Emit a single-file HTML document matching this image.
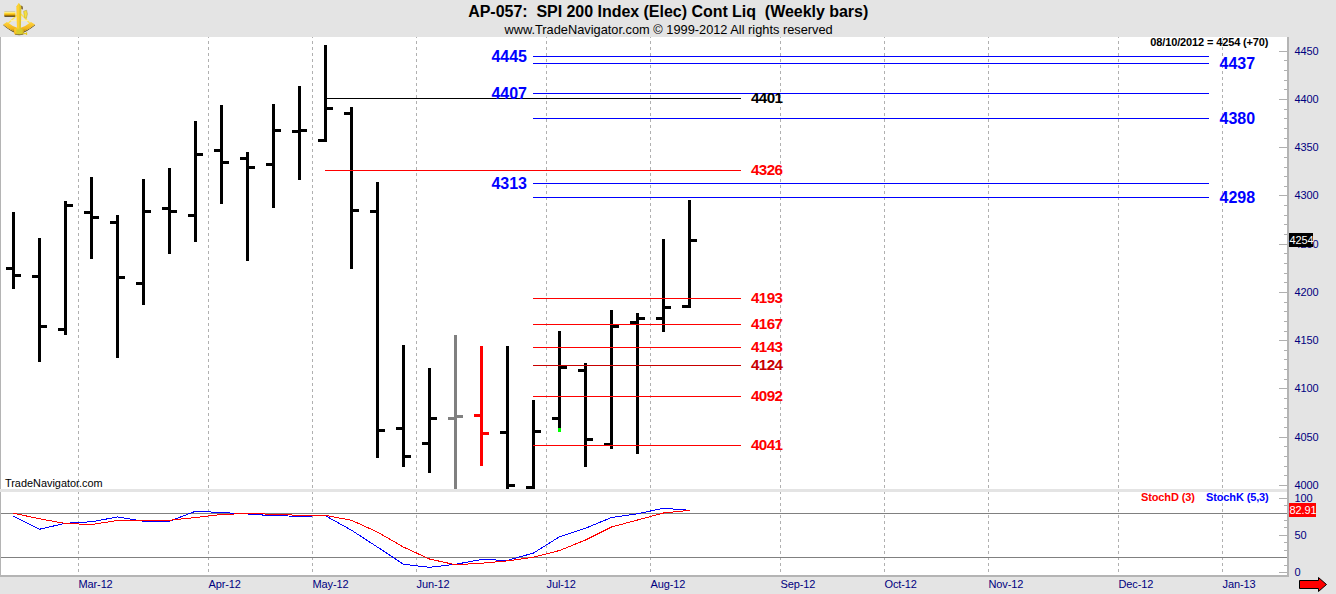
<!DOCTYPE html>
<html><head><meta charset="utf-8"><title>AP-057 SPI 200 Index</title>
<style>
html,body{margin:0;padding:0;background:#e4e4e4;}
body{width:1336px;height:594px;overflow:hidden;font-family:"Liberation Sans",sans-serif;}
svg{display:block;position:absolute;left:0;top:0;}
text{font-family:"Liberation Sans",sans-serif;}
.t{font-weight:bold;font-size:16px;fill:#000;}
.s{font-size:12.8px;fill:#000;}
.ax{font-size:11px;letter-spacing:-0.12px;fill:#000080;}
.bl{font-weight:bold;font-size:16px;fill:#0000ff;}
.rd{font-weight:bold;font-size:15.2px;letter-spacing:-0.6px;fill:#ff0000;}
.bk{font-weight:bold;font-size:15.2px;letter-spacing:-0.6px;fill:#000;}
.sm{font-weight:bold;font-size:11px;letter-spacing:-0.13px;}
</style></head><body>
<svg width="1336" height="594" viewBox="0 0 1336 594">
<rect x="0" y="0" width="1336" height="594" fill="#e4e4e4"/>
<g shape-rendering="crispEdges">
<rect x="1" y="37" width="1286" height="538" fill="#fff"/>
<rect x="0" y="37" width="1" height="540" fill="#b4b4b4"/>
<rect x="0" y="575" width="1289" height="2" fill="#b4b4b4"/>
<rect x="1287" y="37" width="2" height="540" fill="#b4b4b4"/>
<line x1="78.5" y1="37" x2="78.5" y2="575" stroke="#b0b0b0" stroke-width="1" stroke-dasharray="3,3" stroke-dashoffset="2"/>
<line x1="208.5" y1="37" x2="208.5" y2="575" stroke="#b0b0b0" stroke-width="1" stroke-dasharray="3,3" stroke-dashoffset="2"/>
<line x1="312.5" y1="37" x2="312.5" y2="575" stroke="#b0b0b0" stroke-width="1" stroke-dasharray="3,3" stroke-dashoffset="2"/>
<line x1="416.5" y1="37" x2="416.5" y2="575" stroke="#b0b0b0" stroke-width="1" stroke-dasharray="3,3" stroke-dashoffset="2"/>
<line x1="546.5" y1="37" x2="546.5" y2="575" stroke="#b0b0b0" stroke-width="1" stroke-dasharray="3,3" stroke-dashoffset="2"/>
<line x1="650.5" y1="37" x2="650.5" y2="575" stroke="#b0b0b0" stroke-width="1" stroke-dasharray="3,3" stroke-dashoffset="2"/>
<line x1="780.5" y1="37" x2="780.5" y2="575" stroke="#b0b0b0" stroke-width="1" stroke-dasharray="3,3" stroke-dashoffset="2"/>
<line x1="884.5" y1="37" x2="884.5" y2="575" stroke="#b0b0b0" stroke-width="1" stroke-dasharray="3,3" stroke-dashoffset="2"/>
<line x1="988.5" y1="37" x2="988.5" y2="575" stroke="#b0b0b0" stroke-width="1" stroke-dasharray="3,3" stroke-dashoffset="2"/>
<line x1="1118.5" y1="37" x2="1118.5" y2="575" stroke="#b0b0b0" stroke-width="1" stroke-dasharray="3,3" stroke-dashoffset="2"/>
<line x1="1222.5" y1="37" x2="1222.5" y2="575" stroke="#b0b0b0" stroke-width="1" stroke-dasharray="3,3" stroke-dashoffset="2"/>
<rect x="0" y="489" width="1287" height="3" fill="#e4e4e4"/>
<rect x="1279" y="51" width="8" height="1" fill="#b0b0b0"/>
<rect x="1284" y="60" width="3" height="1" fill="#b0b0b0"/>
<rect x="1284" y="70" width="3" height="1" fill="#b0b0b0"/>
<rect x="1284" y="80" width="3" height="1" fill="#b0b0b0"/>
<rect x="1284" y="89" width="3" height="1" fill="#b0b0b0"/>
<rect x="1279" y="99" width="8" height="1" fill="#b0b0b0"/>
<rect x="1284" y="109" width="3" height="1" fill="#b0b0b0"/>
<rect x="1284" y="118" width="3" height="1" fill="#b0b0b0"/>
<rect x="1284" y="128" width="3" height="1" fill="#b0b0b0"/>
<rect x="1284" y="138" width="3" height="1" fill="#b0b0b0"/>
<rect x="1279" y="147" width="8" height="1" fill="#b0b0b0"/>
<rect x="1284" y="157" width="3" height="1" fill="#b0b0b0"/>
<rect x="1284" y="167" width="3" height="1" fill="#b0b0b0"/>
<rect x="1284" y="176" width="3" height="1" fill="#b0b0b0"/>
<rect x="1284" y="186" width="3" height="1" fill="#b0b0b0"/>
<rect x="1279" y="195" width="8" height="1" fill="#b0b0b0"/>
<rect x="1284" y="205" width="3" height="1" fill="#b0b0b0"/>
<rect x="1284" y="215" width="3" height="1" fill="#b0b0b0"/>
<rect x="1284" y="224" width="3" height="1" fill="#b0b0b0"/>
<rect x="1284" y="234" width="3" height="1" fill="#b0b0b0"/>
<rect x="1279" y="244" width="8" height="1" fill="#b0b0b0"/>
<rect x="1284" y="253" width="3" height="1" fill="#b0b0b0"/>
<rect x="1284" y="263" width="3" height="1" fill="#b0b0b0"/>
<rect x="1284" y="273" width="3" height="1" fill="#b0b0b0"/>
<rect x="1284" y="282" width="3" height="1" fill="#b0b0b0"/>
<rect x="1279" y="292" width="8" height="1" fill="#b0b0b0"/>
<rect x="1284" y="302" width="3" height="1" fill="#b0b0b0"/>
<rect x="1284" y="311" width="3" height="1" fill="#b0b0b0"/>
<rect x="1284" y="321" width="3" height="1" fill="#b0b0b0"/>
<rect x="1284" y="331" width="3" height="1" fill="#b0b0b0"/>
<rect x="1279" y="340" width="8" height="1" fill="#b0b0b0"/>
<rect x="1284" y="350" width="3" height="1" fill="#b0b0b0"/>
<rect x="1284" y="359" width="3" height="1" fill="#b0b0b0"/>
<rect x="1284" y="369" width="3" height="1" fill="#b0b0b0"/>
<rect x="1284" y="379" width="3" height="1" fill="#b0b0b0"/>
<rect x="1279" y="388" width="8" height="1" fill="#b0b0b0"/>
<rect x="1284" y="398" width="3" height="1" fill="#b0b0b0"/>
<rect x="1284" y="408" width="3" height="1" fill="#b0b0b0"/>
<rect x="1284" y="417" width="3" height="1" fill="#b0b0b0"/>
<rect x="1284" y="427" width="3" height="1" fill="#b0b0b0"/>
<rect x="1279" y="437" width="8" height="1" fill="#b0b0b0"/>
<rect x="1284" y="446" width="3" height="1" fill="#b0b0b0"/>
<rect x="1284" y="456" width="3" height="1" fill="#b0b0b0"/>
<rect x="1284" y="466" width="3" height="1" fill="#b0b0b0"/>
<rect x="1284" y="475" width="3" height="1" fill="#b0b0b0"/>
<rect x="1279" y="485" width="8" height="1" fill="#b0b0b0"/>
<rect x="1279" y="498" width="8" height="1" fill="#b0b0b0"/>
<rect x="1284" y="505" width="3" height="1" fill="#b0b0b0"/>
<rect x="1284" y="513" width="3" height="1" fill="#b0b0b0"/>
<rect x="1284" y="520" width="3" height="1" fill="#b0b0b0"/>
<rect x="1284" y="527" width="3" height="1" fill="#b0b0b0"/>
<rect x="1279" y="535" width="8" height="1" fill="#b0b0b0"/>
<rect x="1284" y="542" width="3" height="1" fill="#b0b0b0"/>
<rect x="1284" y="550" width="3" height="1" fill="#b0b0b0"/>
<rect x="1284" y="557" width="3" height="1" fill="#b0b0b0"/>
<rect x="1284" y="565" width="3" height="1" fill="#b0b0b0"/>
<rect x="1279" y="572" width="8" height="1" fill="#b0b0b0"/>
<rect x="1" y="513" width="1286" height="1" fill="#808080"/>
<rect x="1" y="557" width="1286" height="1" fill="#808080"/>
<rect x="12" y="212" width="3" height="77" fill="#000"/>
<rect x="6" y="267" width="6" height="3" fill="#000"/>
<rect x="15" y="274" width="6" height="3" fill="#000"/>
<rect x="38" y="238" width="3" height="124" fill="#000"/>
<rect x="32" y="275" width="6" height="3" fill="#000"/>
<rect x="41" y="325" width="6" height="3" fill="#000"/>
<rect x="64" y="201" width="3" height="134" fill="#000"/>
<rect x="58" y="328" width="6" height="3" fill="#000"/>
<rect x="67" y="204" width="6" height="3" fill="#000"/>
<rect x="90" y="177" width="3" height="82" fill="#000"/>
<rect x="84" y="211" width="6" height="3" fill="#000"/>
<rect x="93" y="216" width="6" height="3" fill="#000"/>
<rect x="116" y="215" width="3" height="143" fill="#000"/>
<rect x="110" y="221" width="6" height="3" fill="#000"/>
<rect x="119" y="276" width="6" height="3" fill="#000"/>
<rect x="142" y="179" width="3" height="126" fill="#000"/>
<rect x="136" y="282" width="6" height="3" fill="#000"/>
<rect x="145" y="210" width="6" height="3" fill="#000"/>
<rect x="168" y="168" width="3" height="86" fill="#000"/>
<rect x="162" y="207" width="6" height="3" fill="#000"/>
<rect x="171" y="210" width="6" height="3" fill="#000"/>
<rect x="194" y="121" width="3" height="121" fill="#000"/>
<rect x="188" y="214" width="6" height="3" fill="#000"/>
<rect x="197" y="153" width="6" height="3" fill="#000"/>
<rect x="220" y="105" width="3" height="99" fill="#000"/>
<rect x="214" y="149" width="6" height="3" fill="#000"/>
<rect x="223" y="161" width="6" height="3" fill="#000"/>
<rect x="246" y="152" width="3" height="109" fill="#000"/>
<rect x="240" y="157" width="6" height="3" fill="#000"/>
<rect x="249" y="166" width="6" height="3" fill="#000"/>
<rect x="272" y="104" width="3" height="104" fill="#000"/>
<rect x="266" y="163" width="6" height="3" fill="#000"/>
<rect x="275" y="129" width="6" height="3" fill="#000"/>
<rect x="298" y="86" width="3" height="94" fill="#000"/>
<rect x="292" y="130" width="6" height="3" fill="#000"/>
<rect x="301" y="129" width="6" height="3" fill="#000"/>
<rect x="324" y="45" width="3" height="97" fill="#000"/>
<rect x="318" y="139" width="6" height="3" fill="#000"/>
<rect x="327" y="107" width="6" height="3" fill="#000"/>
<rect x="350" y="107" width="3" height="162" fill="#000"/>
<rect x="344" y="112" width="6" height="3" fill="#000"/>
<rect x="353" y="209" width="6" height="3" fill="#000"/>
<rect x="376" y="182" width="3" height="276" fill="#000"/>
<rect x="370" y="210" width="6" height="3" fill="#000"/>
<rect x="379" y="429" width="6" height="3" fill="#000"/>
<rect x="402" y="345" width="3" height="122" fill="#000"/>
<rect x="396" y="427" width="6" height="3" fill="#000"/>
<rect x="405" y="455" width="6" height="3" fill="#000"/>
<rect x="428" y="368" width="3" height="105" fill="#000"/>
<rect x="422" y="442" width="6" height="3" fill="#000"/>
<rect x="431" y="417" width="6" height="3" fill="#000"/>
<rect x="454" y="335" width="3" height="154" fill="#808080"/>
<rect x="448" y="417" width="6" height="3" fill="#808080"/>
<rect x="457" y="415" width="6" height="3" fill="#808080"/>
<rect x="480" y="346" width="3" height="120" fill="#ff0000"/>
<rect x="474" y="414" width="6" height="3" fill="#ff0000"/>
<rect x="483" y="432" width="6" height="3" fill="#ff0000"/>
<rect x="506" y="346" width="3" height="143" fill="#000"/>
<rect x="500" y="431" width="6" height="3" fill="#000"/>
<rect x="509" y="484" width="6" height="3" fill="#000"/>
<rect x="532" y="400" width="3" height="89" fill="#000"/>
<rect x="526" y="486" width="6" height="3" fill="#000"/>
<rect x="535" y="430" width="6" height="3" fill="#000"/>
<rect x="558" y="331" width="3" height="101" fill="#000"/>
<rect x="552" y="417" width="6" height="3" fill="#000"/>
<rect x="561" y="366" width="6" height="3" fill="#000"/>
<rect x="558" y="428" width="3" height="4" fill="#00ff00"/>
<rect x="584" y="363" width="3" height="104" fill="#000"/>
<rect x="578" y="369" width="6" height="3" fill="#000"/>
<rect x="587" y="438" width="6" height="3" fill="#000"/>
<rect x="610" y="310" width="3" height="139" fill="#000"/>
<rect x="604" y="443" width="6" height="3" fill="#000"/>
<rect x="613" y="325" width="6" height="3" fill="#000"/>
<rect x="636" y="313" width="3" height="141" fill="#000"/>
<rect x="630" y="321" width="6" height="3" fill="#000"/>
<rect x="639" y="317" width="6" height="3" fill="#000"/>
<rect x="662" y="239" width="3" height="93" fill="#000"/>
<rect x="656" y="317" width="6" height="3" fill="#000"/>
<rect x="665" y="306" width="6" height="3" fill="#000"/>
<rect x="688" y="200" width="3" height="108" fill="#000"/>
<rect x="682" y="305" width="6" height="3" fill="#000"/>
<rect x="691" y="239" width="6" height="3" fill="#000"/>
<rect x="533" y="56" width="676" height="1" fill="#0000ff"/>
<rect x="533" y="63" width="676" height="1" fill="#0000ff"/>
<rect x="533" y="93" width="676" height="1" fill="#0000ff"/>
<rect x="533" y="118" width="676" height="1" fill="#0000ff"/>
<rect x="533" y="183" width="676" height="1" fill="#0000ff"/>
<rect x="533" y="197" width="676" height="1" fill="#0000ff"/>
<rect x="327" y="98" width="414" height="1" fill="#000"/>
<rect x="325" y="170" width="416" height="1" fill="#ff0000"/>
<rect x="533" y="298" width="208" height="1" fill="#ff0000"/>
<rect x="533" y="324" width="208" height="1" fill="#ff0000"/>
<rect x="533" y="347" width="208" height="1" fill="#ff0000"/>
<rect x="533" y="365" width="208" height="1" fill="#c80000"/>
<rect x="533" y="396" width="208" height="1" fill="#ff0000"/>
<rect x="533" y="445" width="208" height="1" fill="#ff0000"/>
</g>
<polyline points="13.5,516.25 39.5,529.25 65.5,523.25 91.5,521.75 117.5,517.00 143.5,521.25 169.5,521.25 195.5,511.25 221.5,512.50 247.5,514.00 273.5,515.75 299.5,516.20 325.5,515.80 351.5,530.20 377.5,547.10 403.5,564.30 429.5,567.30 455.5,564.30 481.5,559.50 507.5,560.40 533.5,553.00 559.5,536.75 585.5,528.25 611.5,517.50 637.5,513.75 663.5,508.25 689.5,510.30" fill="none" stroke="#0000ff" stroke-width="1" shape-rendering="crispEdges"/>
<polyline points="13.5,513.25 39.5,518.75 65.5,523.50 91.5,524.50 117.5,520.50 143.5,520.50 169.5,520.25 195.5,517.50 221.5,514.50 247.5,513.50 273.5,514.25 299.5,515.30 325.5,515.40 351.5,520.30 377.5,532.10 403.5,547.10 429.5,559.00 455.5,564.80 481.5,563.20 507.5,560.90 533.5,557.20 559.5,550.50 585.5,540.00 611.5,527.00 637.5,520.00 663.5,513.00 689.5,510.40" fill="none" stroke="#ff0000" stroke-width="1" shape-rendering="crispEdges"/>
<text class="t" x="668.2" y="17" text-anchor="middle" xml:space="preserve" letter-spacing="-0.03">AP-057:  SPI 200 Index (Elec) Cont Liq  (Weekly bars)</text>
<text class="s" x="668.6" y="34" text-anchor="middle">www.TradeNavigator.com © 1999-2012 All rights reserved</text>
<text class="sm" x="1268.4" y="46" text-anchor="end" fill="#000">08/10/2012 = 4254 (+70)</text>
<text class="bl" x="527" y="62" text-anchor="end">4445</text>
<text class="bl" x="527" y="99" text-anchor="end">4407</text>
<text class="bl" x="527" y="189" text-anchor="end">4313</text>
<text class="bl" x="1219.5" y="69">4437</text>
<text class="bl" x="1219.5" y="124">4380</text>
<text class="bl" x="1219.5" y="203">4298</text>
<text class="bk" x="751" y="103">4401</text>
<text class="rd" x="751" y="175">4326</text>
<text class="rd" x="751" y="303">4193</text>
<text class="rd" x="751" y="329">4167</text>
<text class="rd" x="751" y="352">4143</text>
<text class="rd" x="751" y="370" style="fill:#c80000">4124</text>
<text class="rd" x="751" y="401">4092</text>
<text class="rd" x="751" y="450">4041</text>
<text x="5" y="487" font-size="10.9" fill="#000">TradeNavigator.com</text>
<text class="ax" x="1294.5" y="55.0">4450</text>
<text class="ax" x="1294.5" y="103.0">4400</text>
<text class="ax" x="1294.5" y="151.0">4350</text>
<text class="ax" x="1294.5" y="199.0">4300</text>
<text class="ax" x="1294.5" y="248.0">4250</text>
<text class="ax" x="1294.5" y="296.0">4200</text>
<text class="ax" x="1294.5" y="344.0">4150</text>
<text class="ax" x="1294.5" y="392.0">4100</text>
<text class="ax" x="1294.5" y="441.0">4050</text>
<text class="ax" x="1294.5" y="489.0">4000</text>
<text class="ax" x="1294.5" y="502.0">100</text>
<text class="ax" x="1294.5" y="539.0">50</text>
<text class="ax" x="1294.5" y="576.0">0</text>
<rect x="1289" y="233" width="24" height="14" fill="#000" shape-rendering="crispEdges"/>
<text x="1289.6" y="244" font-size="11" letter-spacing="-0.12" fill="#fff">4254</text>
<rect x="1289" y="503" width="27" height="14" fill="#ff0000" shape-rendering="crispEdges"/>
<text x="1289.6" y="514" font-size="11" letter-spacing="-0.12" fill="#fff">82.91</text>
<text class="sm" x="1141" y="501" fill="#ff0000">StochD (3)</text>
<text class="sm" x="1206" y="501" fill="#0000ff">StochK (5,3)</text>
<text class="ax" x="78.5" y="588">Mar-12</text>
<text class="ax" x="208.5" y="588">Apr-12</text>
<text class="ax" x="312.5" y="588">May-12</text>
<text class="ax" x="416.5" y="588">Jun-12</text>
<text class="ax" x="546.5" y="588">Jul-12</text>
<text class="ax" x="650.5" y="588">Aug-12</text>
<text class="ax" x="780.5" y="588">Sep-12</text>
<text class="ax" x="884.5" y="588">Oct-12</text>
<text class="ax" x="988.5" y="588">Nov-12</text>
<text class="ax" x="1118.5" y="588">Dec-12</text>
<text class="ax" x="1222.5" y="588">Jan-13</text>
<path d="M1299.5 580.5 H1318.5 V577.5 L1326.5 584.5 L1318.5 591.5 V588.5 H1299.5 Z" fill="#ff0000" stroke="#000" stroke-width="1" stroke-linejoin="miter"/>
<g id="logo">
<defs><linearGradient id="tg" x1="0" y1="0" x2="0" y2="1"><stop offset="0" stop-color="#9a9aa0"/><stop offset="0.18" stop-color="#fff9b0"/><stop offset="0.45" stop-color="#ffd428"/><stop offset="0.72" stop-color="#d89c08"/><stop offset="0.9" stop-color="#4a3400"/><stop offset="1" stop-color="#2a1c00"/></linearGradient><linearGradient id="ag" x1="0" y1="0" x2="0" y2="1"><stop offset="0" stop-color="#ffd440"/><stop offset="0.6" stop-color="#f2b418"/><stop offset="1" stop-color="#7a5c04"/></linearGradient><linearGradient id="cg" x1="0" y1="0" x2="1" y2="0"><stop offset="0" stop-color="#ffcc30"/><stop offset="0.45" stop-color="#e8d030"/><stop offset="1" stop-color="#d4b020"/></linearGradient></defs>
<path d="M17.2 15 L7.5 24 M21 14 L30.5 24" stroke="#ffe450" stroke-width="1.4" fill="none"/>
<path d="M10.5 20.6 H28.5" stroke="#fff2b0" stroke-width="1.1" fill="none"/>
<path d="M3.6 25.6 Q11 32 19 34.6 Q27 32 34.8 25.6 L35 24.5 Q27 31 19 33.5 Q11 31 3.2 24.5 Z" fill="#4a3a08"/>
<path d="M3.2 24.5 Q11 31 19 33.5 Q27 31 35 24.5 L31 21.9 Q25 26.8 19 28.4 Q13 26.8 6.9 21.9 Z" fill="url(#ag)"/>
<path d="M23.6 11.2 L26.6 10.2 L27.4 14 L26.4 18.4 L24.6 17.6 Z" fill="#f6e040" stroke="#a08820" stroke-width="0.4"/>
<path d="M21 5.6 L22.6 6.4 L22.8 9.4 L21.4 9 Z" fill="#5a3c10"/>
<path d="M16.6 6.2 L18.9 2.9 L21.4 6.2 L20.9 28.2 L23.7 29 L23.7 34.2 L14.4 34.2 L14.4 29 L17 28.2 Z" fill="url(#cg)"/>
<path d="M16.6 6.2 L18.9 2.9 L19 28.2 L17 28.2 Z" fill="#ffd030"/>
<rect x="14.4" y="28.6" width="2" height="5.6" fill="#ffc428"/>
<rect x="16.4" y="29.4" width="6" height="4.8" fill="#d6cc2c"/>
<path d="M15 34.2 Q19 35.4 23.4 34.2" stroke="#6a5408" stroke-width="0.7" fill="none"/>
<rect x="4.2" y="10.9" width="11.2" height="5.9" rx="0.8" fill="url(#tg)"/>
<path d="M23.7 33.6 H26.6 M26.6 32.2 V35" stroke="#e4c820" stroke-width="1.1" fill="none"/>
</g>
</svg>
</body></html>
